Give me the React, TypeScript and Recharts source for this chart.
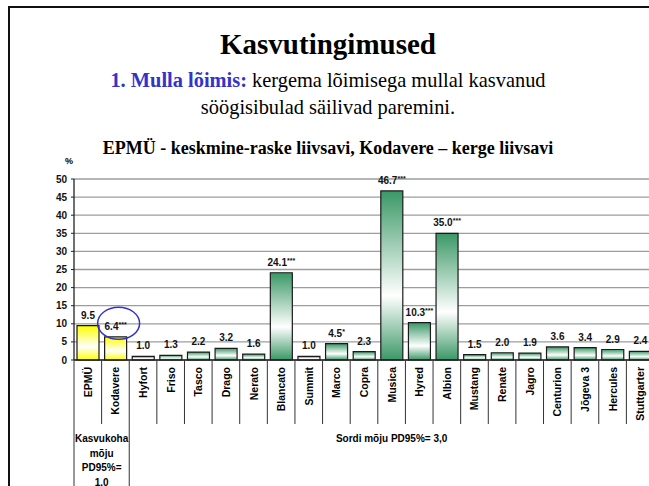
import { Bar, BarChart, CartesianGrid, Cell, LabelList, XAxis, YAxis } from "recharts";

const CATEGORIES = [
  "EPMÜ", "Kodavere", "Hyfort", "Friso", "Tasco", "Drago", "Nerato", "Blancato", "Summit", "Marco", "Copra",
  "Musica", "Hyred", "Albion", "Mustang", "Renate", "Jagro", "Centurion", "Jõgeva 3", "Hercules", "Stuttgarter",
];
const LOSSES = [9.5, 6.4, 1.0, 1.3, 2.2, 3.2, 1.6, 24.1, 1.0, 4.5, 2.3, 46.7, 10.3, 35.0, 1.5, 2.0, 1.9, 3.6, 3.4, 2.9, 2.4];
const SIGNIF = ["", "***", "", "", "", "", "", "***", "", "*", "", "***", "***", "***", "", "", "", "", "", "", ""];
const SITE_COUNT = 2; // EPMÜ, Kodavere = growing sites, the rest are varieties
const Y_TICKS = [0, 5, 10, 15, 20, 25, 30, 35, 40, 45, 50];
const SITE_NOTE = ["Kasvukoha", "mõju", "PD95%=", "1.0"];
const VARIETY_NOTE = "Sordi mõju PD95%= 3,0";
const CIRCLED = "Kodavere";

const data = CATEGORIES.map((name, i) => ({ name, loss: LOSSES[i], stars: SIGNIF[i] }));

const CHART_W = 700;
const CHART_H = 486;
const PLOT_LEFT = 74;
const PLOT_RIGHT = 654;
const PLOT_TOP = 179;
const PLOT_BOTTOM = 360;
const BAND = (PLOT_RIGHT - PLOT_LEFT) / CATEGORIES.length;

const SANS = "Liberation Sans, Arial, sans-serif";
const SERIF = "Liberation Serif, Times New Roman, DejaVu Serif, serif";
const GREEN = "#3a9866";
const YELLOW = "#ffff00";
const BLUE = "#3333cc";

function CategoryTick(props: any) {
  const { x, payload, index } = props;
  const left = x - BAND / 2;
  const n = CATEGORIES.length;
  const longLine = index === 0 || index === SITE_COUNT;
  return (
    <g>
      <line x1={left} x2={left} y1={PLOT_BOTTOM} y2={longLine ? 490 : 424} stroke="#333" strokeWidth={1} />
      {index === n - 1 && <line x1={left + BAND} x2={left + BAND} y1={PLOT_BOTTOM} y2={424} stroke="#333" />}
      <text
        transform={`translate(${x},${PLOT_BOTTOM + 7}) rotate(-90)`}
        textAnchor="end"
        dominantBaseline="central"
        fontFamily={SANS}
        fontWeight="bold"
        fontSize={10.5}
        fill="#000"
      >
        {payload.value}
      </text>
      {index === 0 &&
        SITE_NOTE.map((line, i) => (
          <text key={line} x={left + (BAND * SITE_COUNT) / 2} y={442 + i * 14.5} textAnchor="middle"
            fontFamily={SANS} fontWeight="bold" fontSize={10} fill="#000">
            {line}
          </text>
        ))}
      {index === SITE_COUNT && (
        <text x={left + (BAND * (n - SITE_COUNT)) / 2} y={442} textAnchor="middle"
          fontFamily={SANS} fontWeight="bold" fontSize={10} fill="#000">
          {VARIETY_NOTE}
        </text>
      )}
    </g>
  );
}

function ValueLabel(props: any) {
  const { x, y, width, index } = props;
  const cx = x + width / 2;
  const row = data[index];
  return (
    <g>
      <text x={cx} y={y - 7} textAnchor="middle" fontFamily={SANS} fontWeight="bold" fontSize={10} fill="#111">
        {row.loss.toFixed(1)}
        {row.stars && (
          <tspan fontSize={7} dy={-3}>
            {row.stars}
          </tspan>
        )}
      </text>
      {row.name === CIRCLED && (
        <ellipse cx={cx + 3} cy={y - 13.5} rx={21} ry={16} fill="none" stroke={BLUE} strokeWidth={1.5} />
      )}
    </g>
  );
}

export default function App() {
  return (
    <div style={{ position: "absolute", left: 0, top: 0, width: 649, height: 486, overflow: "hidden", background: "#fff" }}>
      <div style={{ position: "absolute", left: 8, top: 6, width: 720, height: 620, border: "2.5px solid #111" }} />
      <div style={{ position: "absolute", left: 0, top: 28, width: 656, textAlign: "center", fontFamily: SERIF, fontWeight: "bold", fontSize: 29, lineHeight: "32px" }}>
        Kasvutingimused
      </div>
      <div style={{ position: "absolute", left: 0, top: 67, width: 656, textAlign: "center", fontFamily: SERIF, fontSize: 20.4, lineHeight: "27px" }}>
        <span style={{ color: BLUE, fontWeight: "bold" }}>1. Mulla lõimis:</span> kergema lõimisega mullal kasvanud
        <br />
        söögisibulad säilivad paremini.
      </div>
      <div style={{ position: "absolute", left: 0, top: 138, width: 656, textAlign: "center", fontFamily: SERIF, fontWeight: "bold", fontSize: 18, lineHeight: "20px" }}>
        EPMÜ - keskmine-raske liivsavi, Kodavere – kerge liivsavi
      </div>
      <div style={{ position: "absolute", left: 65, top: 156, fontFamily: SANS, fontWeight: "bold", fontSize: 9 }}>%</div>
      <div style={{ position: "absolute", left: 0, top: 0 }}>
        <BarChart
          width={CHART_W}
          height={CHART_H}
          data={data}
          margin={{ top: PLOT_TOP, right: CHART_W - PLOT_RIGHT, left: 0, bottom: 0 }}
          barSize={22}
        >
          <CartesianGrid vertical={false} stroke="#9d9d9d" strokeWidth={1.3} />
          <defs>
            <linearGradient id="gGreen" x1="0" y1="0" x2="0" y2="1">
              <stop offset="0%" stopColor={GREEN} />
              <stop offset="62%" stopColor="#ffffff" />
              <stop offset="100%" stopColor={GREEN} />
            </linearGradient>
            <linearGradient id="gYellow" x1="0" y1="0" x2="0" y2="1">
              <stop offset="0%" stopColor={YELLOW} />
              <stop offset="62%" stopColor="#ffffff" />
              <stop offset="100%" stopColor={YELLOW} />
            </linearGradient>
          </defs>
          <XAxis
            dataKey="name"
            height={CHART_H - PLOT_BOTTOM}
            interval={0}
            tickLine={false}
            axisLine={{ stroke: "#222", strokeWidth: 1.3 }}
            tick={<CategoryTick />}
          />
          <YAxis
            width={PLOT_LEFT}
            domain={[0, 50]}
            ticks={Y_TICKS}
            interval={0}
            tickSize={3}
            tickMargin={4}
            axisLine={{ stroke: "#222", strokeWidth: 1.3 }}
            tickLine={{ stroke: "#222" }}
            tick={{ fontFamily: SANS, fontWeight: "bold", fontSize: 10, fill: "#111" }}
          />
          <Bar dataKey="loss" stroke="#1a1a1a" strokeWidth={1.2} isAnimationActive={false}>
            {data.map((d, i) => (
              <Cell key={d.name} fill={i < SITE_COUNT ? "url(#gYellow)" : "url(#gGreen)"} />
            ))}
            <LabelList dataKey="loss" content={<ValueLabel />} />
          </Bar>
        </BarChart>
      </div>
    </div>
  );
}
